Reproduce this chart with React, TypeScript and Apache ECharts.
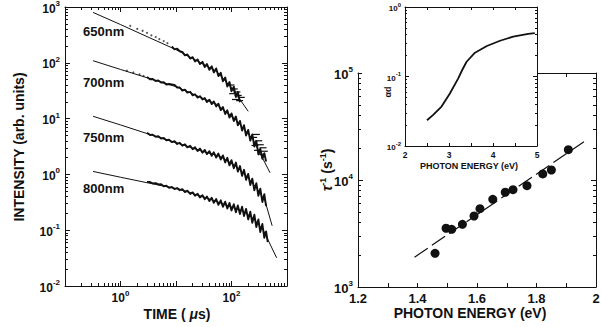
import React, { useEffect, useRef } from 'react';
import * as echarts from 'echarts';

const FONT = '"Liberation Sans", Arial, Helvetica, sans-serif';
const INK = '#111';

// ---------- Left panel: luminescence decay ----------
const wavelengthLabels = ['650nm', '700nm', '750nm', '800nm'];

// fitted curves [time (us), intensity]
const fit650 = [[0.32, 800], [1, 485], [3, 295], [10, 172], [25, 106], [54, 70], [107, 33], [200, 13.5]];
const fit700 = [[0.32, 109], [1, 76], [3, 54], [10.3, 37], [54, 18], [120, 9.5], [245, 4.2], [494, 1.07]];
const fit750 = [[0.32, 11], [1, 7.7], [3, 5.4], [10, 3.7], [30, 2.6], [62, 2.1], [120, 1.4], [187, 0.93], [290, 0.55], [400, 0.34], [540, 0.12]];
const fit800 = [[0.32, 1.13], [1, 0.89], [3, 0.71], [11.8, 0.54], [41, 0.36], [100, 0.26], [162, 0.22], [250, 0.16], [375, 0.1], [650, 0.032]];

// measured (noisy) data sampled on a common time list
const tData = [3, 3.4, 3.8, 4.3, 4.8, 5.4, 6, 6.7, 7.5, 8.4, 9.4, 10.5, 11.7, 13, 14.5, 16, 18, 20, 22, 24.5, 27, 30, 33, 36, 40, 44, 48, 53, 58, 64, 70, 77, 84, 92, 100, 110, 120, 130, 142, 155, 168, 183, 200, 218, 237, 258, 280, 305, 330, 360, 390, 420, 450];
const tData650 = tData.slice(9);
const data650 = [196, 174, 179, 161, 157, 136, 141, 119, 126, 106, 115, 94.8, 104, 84.1, 95.5, 75.0, 86.7, 67.3, 79.4, 57.8, 66.1, 46.5, 54.6, 37.6, 45.3, 31.0, 37.3, 24.4, 30.0, 19.6];
const data700 = [55.5, 50.7, 51.3, 47.3, 48.3, 44.3, 44.9, 40.8, 41.7, 40.9, 40.2, 36.1, 36.1, 31.8, 33.0, 29.3, 30.2, 26.1, 27.3, 23.8, 25.2, 22.0, 23.3, 19.8, 21.7, 18.2, 20.3, 16.5, 18.5, 14.2, 16.1, 12.1, 14.1, 10.4, 12.4, 9.06, 10.9, 7.55, 9.1, 6.1, 7.6, 4.99, 6.28, 4.03, 5.22, 3.15, 3.98, 2.28, 2.88, 1.9, 2.4, 1.7];
const data750 = [5.56, 5.08, 5.15, 4.74, 4.82, 4.41, 4.49, 4.10, 4.18, 3.79, 3.93, 3.51, 3.69, 3.27, 3.46, 3.05, 3.25, 2.82, 3.07, 2.63, 2.90, 2.45, 2.74, 2.31, 2.60, 2.15, 2.49, 2.00, 2.37, 1.85, 2.19, 1.64, 1.98, 1.45, 1.80, 1.29, 1.63, 1.12, 1.41, 0.94, 1.21, 0.80, 1.02, 0.644, 0.84, 0.519, 0.697, 0.414, 0.553, 0.321, 0.441, 0.269];
const data800 = [0.735, 0.730, 0.689, 0.698, 0.661, 0.664, 0.612, 0.628, 0.575, 0.594, 0.547, 0.570, 0.521, 0.545, 0.482, 0.511, 0.447, 0.476, 0.415, 0.449, 0.385, 0.423, 0.358, 0.402, 0.333, 0.381, 0.309, 0.362, 0.285, 0.343, 0.263, 0.324, 0.244, 0.308, 0.226, 0.292, 0.210, 0.278, 0.195, 0.264, 0.179, 0.241, 0.156, 0.214, 0.136, 0.189, 0.114, 0.156, 0.0927, 0.129, 0.0729, 0.0948, 0.061];

// sparse early points and error-bar dashes
const dots650 = [[1.5, 460], [2, 405], [2.5, 375], [3, 345], [3.6, 310], [4.3, 290], [5, 265], [6, 245], [7, 225]];
const dots700 = [[1.3, 72], [1.7, 67], [2.2, 62], [2.6, 58]];
const dash650 = [[98, 40], [105, 28], [112, 34], [118, 22], [125, 30], [132, 26], [140, 21], [150, 24]];
const dash700 = [[250, 4.6], [265, 3.3], [280, 5.2], [295, 2.7], [310, 4.0], [330, 3.4], [350, 2.3], [370, 3.0], [390, 2.6]];

// ---------- Right panel: decay rate vs photon energy ----------
const photonEnergy = [1.459, 1.496, 1.515, 1.551, 1.590, 1.610, 1.653, 1.695, 1.721, 1.768, 1.821, 1.850, 1.907];
const decayRate = [2065, 3540, 3460, 3850, 4610, 5400, 6600, 7680, 8120, 8850, 11400, 12400, 19200];
const fitEnergy = [1.39, 1.96];
const fitRate = [1900, 22800];

// ---------- Inset: absorption ----------
const insetEnergy = [2.5, 2.64, 2.83, 3.02, 3.21, 3.30, 3.40, 3.59, 3.70, 3.86, 4.16, 4.46, 4.80, 4.95];
const insetAlphaD = [0.0235, 0.028, 0.037, 0.057, 0.094, 0.124, 0.163, 0.22, 0.24, 0.275, 0.327, 0.374, 0.41, 0.42];

const zip = (xs: number[], ys: number[]) => ys.map((y, i) => [xs[i], y]);

const minorLog = (lo: number, hi: number) => {
  const out: number[] = [];
  for (let e = lo; e < hi; e++) for (let k = 2; k <= 9; k++) out.push(e + Math.log10(k));
  return out;
};

const expLabel = (show: number[] | null) => (v: number) => {
  const e = Math.round(Math.log10(v));
  if (show && !show.includes(e)) return '';
  return `{b|10}{s|${e}}`;
};

const rich = (size: number, sup: number) => ({
  b: { fontSize: size, fontWeight: 'bold', fontFamily: FONT, color: INK, lineHeight: size + 3, verticalAlign: 'bottom' },
  s: { fontSize: sup, fontWeight: 'bold', fontFamily: FONT, color: INK, lineHeight: sup - 1, verticalAlign: 'top' },
});

const ls = { color: INK, width: 1 };

function logAxis(gridIndex: number, position: string, min: number, max: number, label: any, z = 0, tickLen = 5) {
  return {
    type: 'log', logBase: 10, gridIndex, position, min, max, z,
    axisLine: { show: true, onZero: false, lineStyle: ls },
    axisTick: { show: true, inside: true, length: tickLen, lineStyle: ls },
    axisLabel: label ? { show: true, ...label } : { show: false },
    splitLine: { show: false },
    minorTick: { show: false },
  };
}
function minorAxis(gridIndex: number, position: string, lo: number, hi: number, z = 0, len = 3) {
  return {
    type: 'value', gridIndex, position, min: lo, max: hi, z,
    axisLine: { show: false, onZero: false },
    axisTick: { show: true, inside: true, length: len, lineStyle: ls, customValues: minorLog(lo, hi) },
    axisLabel: { show: false },
    splitLine: { show: false },
  };
}
function linAxis(gridIndex: number, position: string, min: number, max: number, interval: number, label: any, z = 0, tickLen = 4) {
  return {
    type: 'value', gridIndex, position, min, max, interval, z,
    axisLine: { show: true, onZero: false, lineStyle: ls },
    axisTick: { show: true, inside: true, length: tickLen, lineStyle: ls },
    axisLabel: label ? { show: true, ...label } : { show: false },
    splitLine: { show: false },
  };
}

function buildOption(): any {
  const leftLogY = { margin: 5, formatter: expLabel(null), rich: rich(12, 8) };
  const leftLogX = { margin: 3, formatter: expLabel([0, 2]), rich: rich(12, 8) };
  const mainLogY = { margin: 5, formatter: expLabel(null), rich: rich(13, 8) };
  const insetLogY = { margin: 4, formatter: expLabel(null), rich: rich(8, 6) };
  const mainX = {
    margin: 5, fontSize: 13, fontWeight: 'bold', fontFamily: FONT, color: INK,
    formatter: (v: number) => { const k = Math.round(v * 10); return k % 2 === 0 ? (k === 20 ? '2' : (k / 10).toFixed(1)) : ''; },
  };
  const insetX = {
    margin: 4, fontSize: 8.5, fontWeight: 'bold', fontFamily: FONT, color: INK,
    formatter: (v: number) => (Math.abs(v - Math.round(v)) < 1e-6 ? String(Math.round(v)) : ''),
  };

  const xAxis = [
    logAxis(0, 'bottom', 0.1, 1000, leftLogX),
    logAxis(0, 'top', 0.1, 1000, null),
    minorAxis(0, 'bottom', -1, 3),
    minorAxis(0, 'top', -1, 3),
    linAxis(1, 'bottom', 1.2, 2, 0.1, mainX),
    linAxis(1, 'top', 1.2, 2, 0.1, null),
    linAxis(2, 'bottom', 2, 5, 0.5, insetX, 5, 3),
    linAxis(2, 'top', 2, 5, 0.5, null, 5, 3),
  ];
  const yAxis = [
    logAxis(0, 'left', 0.01, 1000, leftLogY),
    logAxis(0, 'right', 0.01, 1000, null),
    minorAxis(0, 'left', -2, 3),
    minorAxis(0, 'right', -2, 3),
    logAxis(1, 'left', 1000, 100000, mainLogY),
    logAxis(1, 'right', 1000, 100000, null),
    minorAxis(1, 'left', 3, 5),
    minorAxis(1, 'right', 3, 5),
    logAxis(2, 'left', 0.01, 1, insetLogY, 5, 4),
    logAxis(2, 'right', 0.01, 1, null, 5, 4),
    minorAxis(2, 'left', -2, 0, 5, 2),
    minorAxis(2, 'right', -2, 0, 5, 2),
  ];

  const fitLine = (d: number[][]) => ({
    type: 'line', xAxisIndex: 0, yAxisIndex: 0, data: d, symbol: 'none', showSymbol: false,
    lineStyle: { color: INK, width: 1 }, z: 4,
  });
  const dataLine = (d: number[][]) => ({
    type: 'line', xAxisIndex: 0, yAxisIndex: 0, data: d, symbol: 'none', showSymbol: false,
    lineStyle: { color: INK, width: 1.9, join: 'round' }, z: 3,
  });
  const dots = (d: number[][]) => ({
    type: 'scatter', xAxisIndex: 0, yAxisIndex: 0, data: d, symbolSize: 2,
    itemStyle: { color: '#555', opacity: 1 }, z: 3,
  });
  const dashes = (d: number[][]) => ({
    type: 'scatter', xAxisIndex: 0, yAxisIndex: 0, data: d, symbol: 'rect', symbolSize: [7, 1.2],
    itemStyle: { color: INK, opacity: 1 }, z: 3,
  });

  const series = [
    fitLine(fit650), fitLine(fit700), fitLine(fit750), fitLine(fit800),
    dataLine(zip(tData650, data650)), dataLine(zip(tData, data700)),
    dataLine(zip(tData, data750)), dataLine(zip(tData, data800)),
    dots(dots650), dots(dots700), dashes(dash650), dashes(dash700),
    {
      type: 'line', xAxisIndex: 4, yAxisIndex: 4, data: zip(fitEnergy, fitRate), symbol: 'none',
      lineStyle: { color: INK, width: 1.2, type: [16, 5] }, z: 2,
    },
    {
      type: 'scatter', xAxisIndex: 4, yAxisIndex: 4, data: zip(photonEnergy, decayRate), symbolSize: 9,
      itemStyle: { color: INK, opacity: 1 }, z: 2,
    },
    {
      type: 'line', xAxisIndex: 6, yAxisIndex: 8, data: zip(insetEnergy, insetAlphaD), symbol: 'none',
      lineStyle: { color: INK, width: 1.8 }, z: 6,
    },
  ];

  const txt = (x: number, y: number, text: string, font: string, extra: any = {}) => ({
    type: 'text', x, y, silent: true, ...extra,
    style: { text, font, fill: INK, align: 'center', verticalAlign: 'middle', textAlign: 'center', textVerticalAlign: 'middle', ...(extra.style || {}) },
  });
  const bold = (n: number) => `bold ${n}px ${FONT}`;
  const annY = [31, 82, 137, 188];

  const graphic = [
    { type: 'rect', z: 3, silent: true, shape: { x: 362, y: 40, width: 175, height: 106 }, style: { fill: '#fff' } },
    ...wavelengthLabels.map((s, i) => txt(83, annY[i], s, bold(13), { style: { align: 'left', textAlign: 'left' } })),
    txt(19, 147, 'INTENSITY (arb. units)', bold(14), { rotation: Math.PI / 2 }),
    {
      type: 'text', x: 177, y: 314, silent: true,
      style: {
        text: '{b|TIME ( }{m|μ}{b|s)}', align: 'center', verticalAlign: 'middle', textAlign: 'center', textVerticalAlign: 'middle',
        rich: {
          b: { fontSize: 14, fontWeight: 'bold', fontFamily: FONT, fill: INK, color: INK },
          m: { fontSize: 14, fontWeight: 'bold', fontStyle: 'italic', fontFamily: FONT, fill: INK, color: INK },
        },
      },
    },
    txt(470, 313, 'PHOTON ENERGY (eV)', bold(14)),
    {
      type: 'text', x: 326, y: 170, rotation: Math.PI / 2, silent: true,
      style: {
        text: '{t|τ}{s|-1}{b| (s}{s|-1}{b|)}', align: 'center', verticalAlign: 'middle', textAlign: 'center', textVerticalAlign: 'middle',
        rich: {
          t: { fontSize: 14, fontWeight: 'bold', fontStyle: 'italic', fontFamily: FONT, fill: INK, color: INK, lineHeight: 16, verticalAlign: 'bottom' },
          b: { fontSize: 14, fontWeight: 'bold', fontFamily: FONT, fill: INK, color: INK, lineHeight: 16, verticalAlign: 'bottom' },
          s: { fontSize: 9, fontWeight: 'bold', fontFamily: FONT, fill: INK, color: INK, lineHeight: 8, verticalAlign: 'top' },
        },
      },
    },
    txt(469, 166, 'PHOTON ENERGY (eV)', bold(9), { z: 6 }),
    txt(388, 92, 'αd', bold(9), { rotation: Math.PI / 2, z: 6 }),
  ];

  return {
    animation: false,
    backgroundColor: '#fff',
    grid: [
      { left: 65, top: 7, width: 222, height: 279, containLabel: false, outerBoundsMode: 'none' },
      { left: 358, top: 73, width: 238, height: 214, containLabel: false, outerBoundsMode: 'none' },
      { left: 405, top: 7, width: 132, height: 139, containLabel: false, outerBoundsMode: 'none' },
    ],
    xAxis,
    yAxis,
    series,
    graphic: { elements: graphic },
  };
}

export default function App() {
  const ref = useRef<HTMLDivElement>(null);
  useEffect(() => {
    document.body.style.margin = '0';
    const chart = echarts.init(ref.current as HTMLDivElement, null, { renderer: 'svg' });
    chart.setOption(buildOption());
    return () => chart.dispose();
  }, []);
  return (
    <div
      ref={ref}
      style={{ position: 'fixed', left: 0, top: 0, width: 601, height: 327, background: '#fff' }}
    />
  );
}
